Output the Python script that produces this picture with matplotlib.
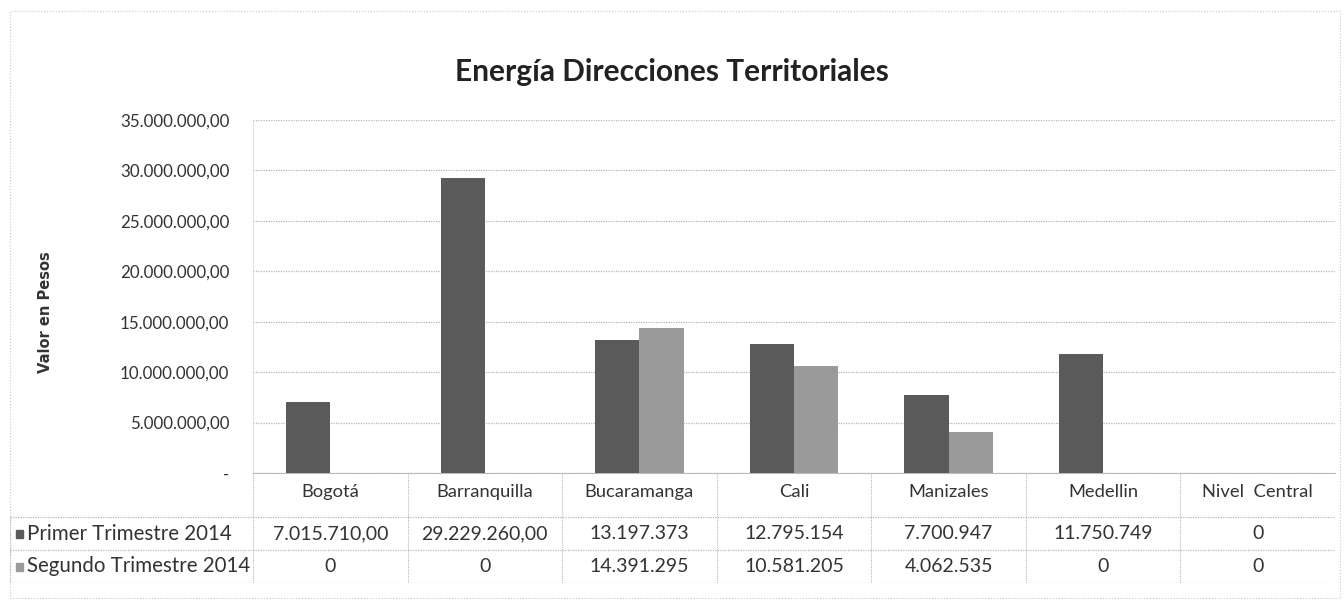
import matplotlib
matplotlib.use("Agg")
import matplotlib.pyplot as plt
from matplotlib.patches import Rectangle
from matplotlib.ticker import FixedLocator
import numpy as np

categories = ["Bogotá", "Barranquilla", "Bucaramanga", "Cali", "Manizales", "Medellin", "Nivel  Central"]
series_names = ["Primer Trimestre 2014", "Segundo Trimestre 2014"]
primer = [7015710.00, 29229260.00, 13197373, 12795154, 7700947, 11750749, 0]
segundo = [0, 0, 14391295, 10581205, 4062535, 0, 0]
primer_labels = ["7.015.710,00", "29.229.260,00", "13.197.373", "12.795.154", "7.700.947", "11.750.749", "0"]
segundo_labels = ["0", "0", "14.391.295", "10.581.205", "4.062.535", "0", "0"]
y_ticks = [0, 5000000, 10000000, 15000000, 20000000, 25000000, 30000000, 35000000]
y_tick_labels = ["-", "5.000.000,00", "10.000.000,00", "15.000.000,00", "20.000.000,00",
                 "25.000.000,00", "30.000.000,00", "35.000.000,00"]
title = "Energía Direcciones Territoriales"
y_label = "Valor en Pesos"

colors = ["#5a5a5a", "#9a9a9a"]
narrow = ["Lato", "DejaVu Sans"]
tcol = "#333333"

W, H = 1344, 603
fig = plt.figure(figsize=(W / 100, H / 100), dpi=100)
fig.patch.set_facecolor("white")

def fx(px):
    return px / W

def fy(py):
    return 1 - py / H

# outer dotted border
fig.add_artist(Rectangle((fx(10), fy(598)), fx(1340) - fx(10), fy(11) - fy(598),
                         transform=fig.transFigure, fill=False, edgecolor="#c8c8c8",
                         linestyle=":", linewidth=0.8))

left, right, top, bottom = 253, 1335, 120, 473
ax = fig.add_axes([fx(left), fy(bottom), fx(right) - fx(left), fy(top) - fy(bottom)])
x = np.arange(len(categories))
bw = 0.286
ax.bar(x - bw / 2, primer, width=bw, color=colors[0], zorder=3)
ax.bar(x + bw / 2, segundo, width=bw, color=colors[1], zorder=3)
ax.set_xlim(-0.5, len(categories) - 0.5)
ax.set_ylim(0, 35000000)
ax.yaxis.set_major_locator(FixedLocator(y_ticks))
ax.set_yticklabels(y_tick_labels, fontfamily=narrow, fontsize=12.2, color=tcol)
ax.set_xticks([])
ax.tick_params(axis="y", length=0, pad=17)
for s in ["top", "right"]:
    ax.spines[s].set_visible(False)
ax.spines["left"].set_color("#dddddd")
ax.spines["left"].set_linewidth(0.6)
ax.spines["bottom"].set_color("#bbbbbb")
ax.spines["bottom"].set_linewidth(0.8)
ax.grid(axis="y", color="#b5b5b5", linestyle=(0, (1, 1)), linewidth=0.9, zorder=0)

fig.text(fx(672), fy(72), title, ha="center", va="center", fontsize=21.5, fontweight="bold",
         fontfamily=narrow, color="#222222")
fig.text(fx(45), fy(312), y_label, ha="center", va="center", rotation=90, fontsize=10.5,
         fontweight="bold", fontfamily="DejaVu Sans", color=tcol)

# data table
tl, tb, tt = 10, 583, 473
cat_w = (right - left) / len(categories)
lab_w = (left - tl) / cat_w
tax = fig.add_axes([fx(tl), fy(tb), fx(right) - fx(tl), fy(tt) - fy(tb)])
tax.set_xlim(-0.5 - lab_w, len(categories) - 0.5)
row_h = [33, 33, 44]
tax.set_ylim(0, sum(row_h))
tax.axis("off")
lc = "#b8b8b8"
ls = (0, (1, 1))
y2 = row_h[0]
y1 = row_h[0] + row_h[1]
ytop = sum(row_h)
xl = -0.5 - lab_w
xr = len(categories) - 0.5
for yy in [0, y2, y1]:
    tax.plot([xl, xr], [yy, yy], color=lc, linestyle=ls, linewidth=0.9)
for i in range(len(categories) + 1):
    tax.plot([i - 0.5, i - 0.5], [0, ytop], color=lc, linestyle=ls, linewidth=0.8)
tax.plot([xl, xl], [0, y1], color=lc, linestyle=ls, linewidth=0.9)

for i, c in enumerate(categories):
    tax.text(i, y1 + row_h[2] * 0.56, c, ha="center", va="center", fontsize=13.2,
             fontfamily=narrow, color=tcol)
    tax.text(i, y2 + row_h[1] / 2, primer_labels[i], ha="center", va="center", fontsize=14,
             fontfamily=narrow, color=tcol)
    tax.text(i, row_h[0] / 2, segundo_labels[i], ha="center", va="center", fontsize=14,
             fontfamily=narrow, color=tcol)

row_centers = [y2 + row_h[1] / 2, row_h[0] / 2]
sq_w = 7 / cat_w
for k, name in enumerate(series_names):
    yc = row_centers[k]
    tax.add_patch(Rectangle((xl + 6 / cat_w, yc - 4), sq_w, 8, color=colors[k]))
    tax.text(xl + 17 / cat_w, yc, name, ha="left", va="center", fontsize=14.8,
             fontfamily=narrow, color=tcol)

fig.savefig("out.png", dpi=100, facecolor="white")
